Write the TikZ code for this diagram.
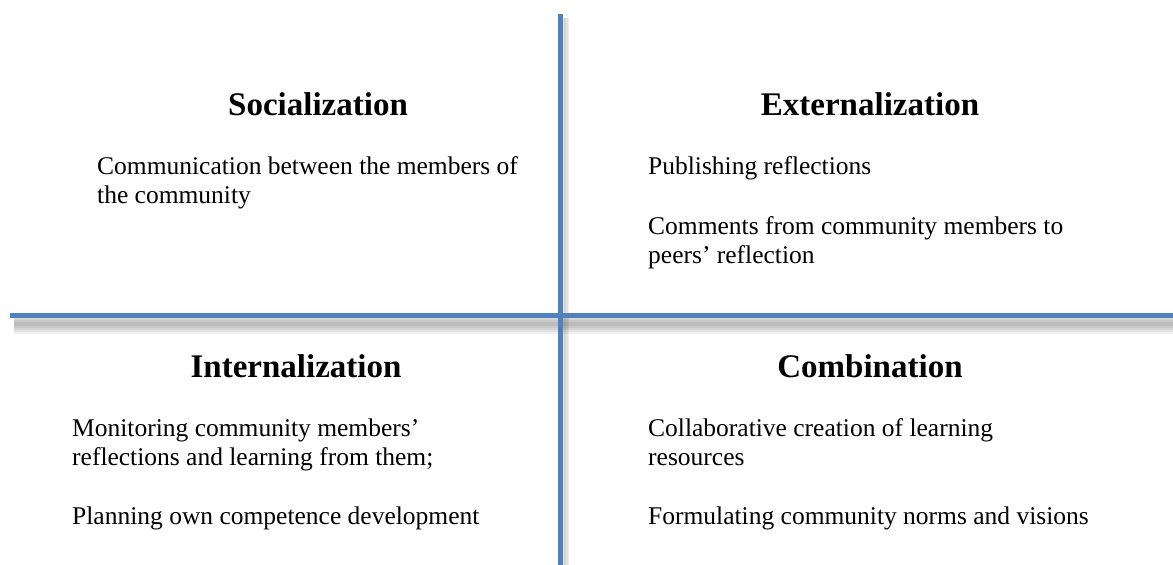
\documentclass[tikz,border=0pt]{standalone}
\usepackage{fontspec}
\setmainfont{Liberation Serif}
\definecolor{axisblue}{HTML}{4F81BD}
\tikzset{
  quadtitle/.style={font=\fontsize{33}{38}\selectfont\bfseries, anchor=base},
  quadtext/.style={font=\fontsize{25.5}{29}\selectfont, align=left, anchor=base west, inner sep=0pt},
  axisline/.style={axisblue, line width=5pt},
  axisshadow/.style={black, opacity=0.06, line width=#1}
}
\begin{document}
\begin{tikzpicture}[x=1pt, y=-1pt]
	\useasboundingbox (0,0) rectangle (1173,565);
	% shadows
	\foreach \w in {4,8,12,16,20}
		\draw[axisshadow=\w pt] (14,324) -- (1173,324);
	\foreach \w in {2,5,8}
		\draw[axisshadow=\w pt] (565,18) -- (565,565);
	% axes
	\draw[axisline] (10,315) -- (1173,315);
	\draw[axisline] (560,14) -- (560,565);
	% quadrant titles
	\node[quadtitle] (soc)  at (318,115) {Socialization};
	\node[quadtitle] (ext)  at (870,115) {Externalization};
	\node[quadtitle] (int)  at (296,377) {Internalization};
	\node[quadtitle] (comb) at (870,377) {Combination};
	% quadrant texts (multi-line nodes placed at last baseline)
	\node[quadtext] (soc1) at (97,203) {Communication between the members of\\the community};
	\node[quadtext] (ext1) at (648,174) {Publishing reflections};
	\node[quadtext] (ext2) at (648,263) {Comments from community members to\\peers’ reflection};
	\node[quadtext] (int1) at (72,465) {Monitoring community members’\\reflections and learning from them;};
	\node[quadtext] (int2) at (72,524) {Planning own competence development};
	\node[quadtext] (comb1) at (648,465) {Collaborative creation of learning\\resources};
	\node[quadtext] (comb2) at (648,524) {Formulating community norms and visions};
\end{tikzpicture}
\end{document}
